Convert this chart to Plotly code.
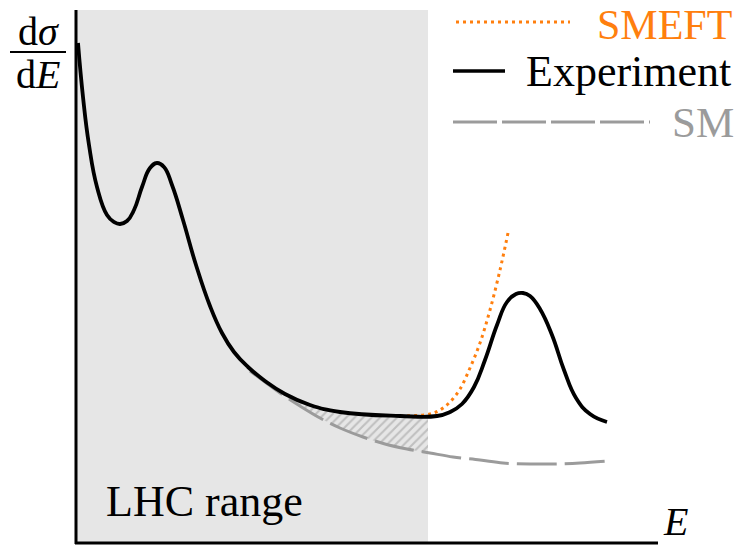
import plotly.graph_objects as go

# Schematic curves (x = energy in screen-like units, y = cross-section position, axis reversed)
E_exp = [78, 83, 89, 97, 107, 114, 120, 127, 134, 142, 150, 157, 164, 172, 183, 196, 210, 222, 234,
         248, 265, 285, 310, 340, 400, 437, 450, 462, 474, 485, 497, 507, 516, 523, 530, 540, 552,
         564, 576, 590, 607]
y_exp = [43, 97, 145, 187, 215, 222, 224, 221, 210, 187, 168, 163, 167, 185, 220, 265, 306, 333, 352,
         367, 381, 394, 405, 412, 416, 416, 412, 404, 387, 360, 325, 302, 294, 293, 296, 309, 335,
         370, 398, 414, 422]

E_sm = [250, 265, 280, 300, 320, 340, 363, 385, 407, 430, 453, 480, 503, 530, 553, 580, 607]
y_sm = [371, 382, 393, 406, 418, 428, 437, 444, 449, 453, 457, 460, 463, 464, 464, 463, 461]

E_smeft = [400, 430, 440, 450, 460, 470, 480, 490, 500, 508]
y_smeft = [416, 414, 410, 402, 389, 368, 343, 310, 270, 233]

# hatched band (between SM and experiment inside LHC range)
E_band_lo = [258, 280, 300, 320, 340, 363, 385, 407, 428]
y_band_lo = [377, 393, 406, 418, 428, 437, 444, 449, 453]
E_band_hi = [258, 285, 310, 340, 370, 400, 428]
y_band_hi = [377, 394, 405, 412, 415, 416, 416]

LHC_lo, LHC_hi = 76, 428

serif = "Liberation Serif, Times New Roman, Times, DejaVu Serif, serif"
orange = "#ff7f0e"
grey = "#9b9b9b"

fig = go.Figure()

fig.add_shape(type="rect", x0=LHC_lo, x1=LHC_hi, y0=10, y1=543, fillcolor="#e6e6e6",
              line=dict(width=0), layer="below")

fig.add_trace(go.Scatter(x=E_band_lo, y=y_band_lo, mode="lines", line=dict(width=0, shape="spline"),
                         hoverinfo="skip", showlegend=False))
fig.add_trace(go.Scatter(x=E_band_hi, y=y_band_hi, mode="lines", line=dict(width=0, shape="spline"),
                         fill="tonexty", fillcolor="rgba(0,0,0,0)",
                         fillpattern=dict(shape="/", fgcolor="#999999", bgcolor="rgba(0,0,0,0)",
                                          size=6, solidity=0.35),
                         hoverinfo="skip", showlegend=False))

fig.add_trace(go.Scatter(x=E_sm, y=y_sm, mode="lines",
                         line=dict(color=grey, width=3, dash="40px,8px", shape="spline"),
                         showlegend=False))
fig.add_trace(go.Scatter(x=E_smeft, y=y_smeft, mode="lines",
                         line=dict(color=orange, width=3, dash="3px,4px", shape="spline"),
                         showlegend=False))
fig.add_trace(go.Scatter(x=E_exp, y=y_exp, mode="lines",
                         line=dict(color="black", width=3.8, shape="spline", smoothing=1.3),
                         showlegend=False))

# axes
fig.add_shape(type="line", x0=76, x1=76, y0=10, y1=544, line=dict(color="black", width=3))
fig.add_shape(type="line", x0=75, x1=658, y0=543, y1=543, line=dict(color="black", width=3))

# legend keys
fig.add_shape(type="line", x0=456, x1=570, y0=22, y1=22, line=dict(color=orange, width=3, dash="3px,4px"))
fig.add_shape(type="line", x0=453, x1=505, y0=71, y1=71, line=dict(color="black", width=3.5))
fig.add_shape(type="line", x0=453, x1=650, y0=122, y1=122, line=dict(color=grey, width=3, dash="44px,5px"))

fig.add_annotation(x=734, y=0, text="SMEFT", showarrow=False, xanchor="right", yanchor="top",
                   font=dict(family=serif, size=42, color=orange))
fig.add_annotation(x=733, y=71, text="Experiment", showarrow=False, xanchor="right", yanchor="middle",
                   font=dict(family=serif, size=44, color="black"))
fig.add_annotation(x=736, y=122, text="SM", showarrow=False, xanchor="right", yanchor="middle",
                   font=dict(family=serif, size=43, color=grey))

# axis labels
fig.add_annotation(x=38, y=31, text="d<i>σ</i>", showarrow=False, xanchor="center", yanchor="middle",
                   font=dict(family=serif, size=40, color="black"))
fig.add_shape(type="line", x0=10, x1=66, y0=52, y1=52, line=dict(color="black", width=2))
fig.add_annotation(x=38, y=74, text="d<i>E</i>", showarrow=False, xanchor="center", yanchor="middle",
                   font=dict(family=serif, size=40, color="black"))
fig.add_annotation(x=675, y=546, text="<i>E</i>", showarrow=False, xanchor="center", yanchor="bottom",
                   font=dict(family=serif, size=40, color="black"))
fig.add_annotation(x=104, y=501, text="LHC range", showarrow=False, xanchor="left", yanchor="middle",
                   font=dict(family=serif, size=44, color="black"))

fig.update_layout(width=739, height=546, margin=dict(l=0, r=0, t=0, b=0),
                  paper_bgcolor="white", plot_bgcolor="white",
                  xaxis=dict(range=[0, 739], visible=False, fixedrange=True),
                  yaxis=dict(range=[546, 0], visible=False, fixedrange=True))

fig.write_html("out.html")
